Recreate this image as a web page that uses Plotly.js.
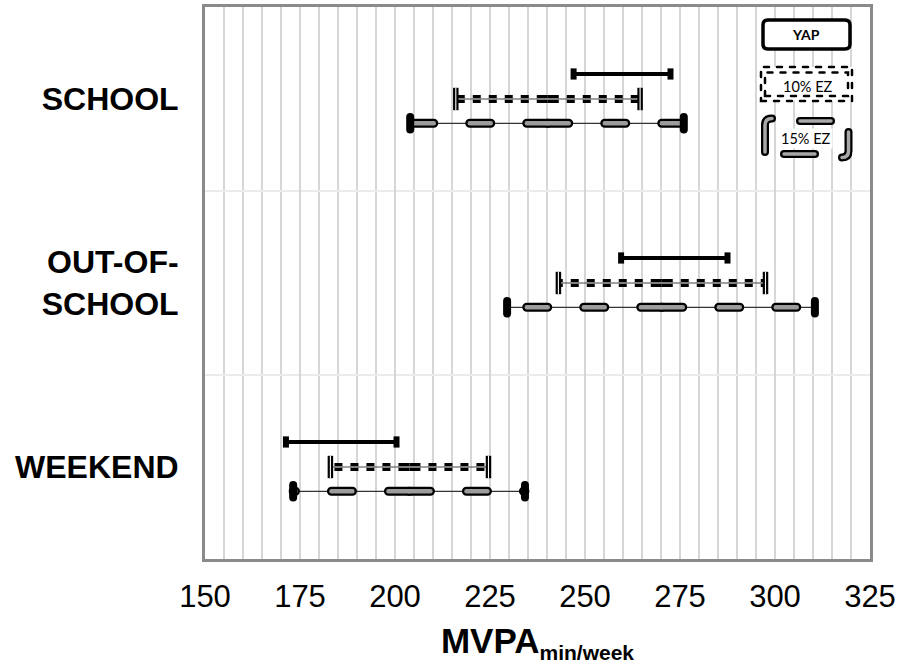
<!DOCTYPE html>
<html><head><meta charset="utf-8">
<script src="https://cdn.plot.ly/plotly-3.0.1.min.js"></script>
<style>
html,body{margin:0;padding:0;background:#fff;}
g[class*="traceez15"] path.js-line{stroke-linecap:round;}
g[class*="traceez15"] .points path{stroke-linecap:round;}
.shapelayer path{stroke-linecap:round;}
</style></head><body>
<div id="chart" style="width:903px;height:664px;"></div>
<script>
// ---- data (MVPA, min/week) ----
const categories = ['SCHOOL', 'OUT-OF-<br>SCHOOL', 'WEEKEND'];
const yapLow  = [247.0, 259.5, 171.3];
const yapHigh = [272.5, 287.5, 200.4];
const ezCenter = [240.2, 270.2, 203.8];
const ez10Low  = [216.0, 243.0, 183.0];
const ez10High = [264.5, 297.5, 224.6];
const ez15Low  = [204.0, 229.5, 173.2];
const ez15High = [276.0, 310.5, 234.2];
const xTicks = [150, 175, 200, 225, 250, 275, 300, 325];

// ---- style ----
const OFF_YAP = -0.136, OFF_15 = 0.132;
const DASH15 = '21px,36px';
const DASH10 = '11px,8px,8px,8px,8px,8px,8px,8px,8px,8px,8px,8px,8px,8px,8px,8px';
const traceList = [];
const thinL = [], blackL = [], upperL = [], markL = [];

categories.forEach((c, i) => {
  const yc = i + 0.5;
  const yY = yc + OFF_YAP, y10 = yc, y15 = yc + OFF_15;
  // YAP solid
  markL.push({x:[yapLow[i], yapHigh[i]], y:[yY, yY], mode:'lines+markers', type:'scatter',
    line:{color:'#000', width:4},
    marker:{symbol:'line-ns', size:8, color:'#000', line:{color:'#000', width:6}}});
  // 10% EZ
  thinL.push({x:[ez10Low[i], ez10High[i]], y:[y10, y10], mode:'lines', type:'scatter',
    line:{color:'#444', width:1}});
  [ez10Low[i], ez10High[i]].forEach(e => {
    blackL.push({x:[ezCenter[i], e], y:[y10, y10], mode:'lines', type:'scatter',
      line:{color:'#000', width:8, dash:DASH10}});
    upperL.push({x:[ezCenter[i], e], y:[y10, y10], mode:'lines', type:'scatter',
      line:{color:'#fff', width:1.2, dash:DASH10}});
  });
  markL.push({x:[ez10Low[i], ez10High[i]], y:[y10, y10], mode:'markers', type:'scatter',
    marker:{symbol:'line-ns', size:16, color:'#000', line:{color:'#000', width:5.5}}});
  markL.push({x:[ez10Low[i], ez10High[i]], y:[y10, y10], mode:'markers', type:'scatter',
    marker:{symbol:'line-ns', size:16, color:'#fff', line:{color:'#fff', width:1.1}}});
  // 15% EZ
  thinL.push({x:[ez15Low[i], ez15High[i]], y:[y15, y15], mode:'lines', type:'scatter',
    line:{color:'#333', width:1.2}});
  [ez15Low[i], ez15High[i]].forEach((e, k) => {
    blackL.push({uid:'ez15b'+i+'_'+k, x:[ezCenter[i], e], y:[y15, y15], mode:'lines', type:'scatter',
      line:{color:'#000', width:9, dash:DASH15}});
    upperL.push({uid:'ez15g'+i+'_'+k, x:[ezCenter[i], e], y:[y15, y15], mode:'lines', type:'scatter',
      line:{color:'#9c9c9c', width:4.5, dash:DASH15}});
  });
  markL.push({uid:'ez15m'+i, x:[ez15Low[i], ez15High[i]], y:[y15, y15], mode:'markers', type:'scatter',
    marker:{symbol:'line-ns', size:9, color:'#000', line:{color:'#000', width:8}}});
});
traceList.push(...thinL, ...blackL, ...upperL, ...markL);
traceList.forEach(t => { t.hoverinfo = 'skip'; t.showlegend = false; });

// ---- legend decoration (pixel -> paper) ----
const PL = 205, PR = 870, PT = 7, PB = 559;
const P = x => +((x - PL) / (PR - PL)).toFixed(5);
const Q = y => +((PB - y) / (PB - PT)).toFixed(5);
const seg = (d, w, col) => ({type:'path', xref:'paper', yref:'paper', path:d, line:{color:col, width:w}});
const legPaths = [
  `M${P(800)},${Q(121)} L${P(831)},${Q(121)}`,
  `M${P(784)},${Q(154)} L${P(815)},${Q(154)}`,
  `M${P(765)},${Q(152)} L${P(765)},${Q(125)} Q${P(765)},${Q(118.5)} ${P(772)},${Q(118.5)}`,
  `M${P(848.5)},${Q(132)} L${P(848.5)},${Q(151)} Q${P(848.5)},${Q(157.5)} ${P(842)},${Q(157.5)}`
];
const rr = 5, bx0 = 763, bx1 = 850, by0 = 20, by1 = 49;
const yapBox = `M${P(bx0+rr)},${Q(by0)} L${P(bx1-rr)},${Q(by0)} Q${P(bx1)},${Q(by0)} ${P(bx1)},${Q(by0+rr)} ` +
  `L${P(bx1)},${Q(by1-rr)} Q${P(bx1)},${Q(by1)} ${P(bx1-rr)},${Q(by1)} L${P(bx0+rr)},${Q(by1)} ` +
  `Q${P(bx0)},${Q(by1)} ${P(bx0)},${Q(by1-rr)} L${P(bx0)},${Q(by0+rr)} Q${P(bx0)},${Q(by0)} ${P(bx0+rr)},${Q(by0)} Z`;
const shapes = [
  ...legPaths.map(d => seg(d, 8, '#000')),
  ...legPaths.map(d => seg(d, 3.5, '#a8a8a8')),
  {type:'path', xref:'paper', yref:'paper', path:yapBox, fillcolor:'#fff', line:{color:'#000', width:3.5}},
  {type:'rect', xref:'paper', yref:'paper', x0:P(761), x1:P(852), y0:Q(101), y1:Q(67),
    fillcolor:'#fff', line:{color:'#000', width:2.5, dash:'5px,8px'}},
  {type:'rect', xref:'paper', yref:'paper', x0:P(765), x1:P(848), y0:Q(96), y1:Q(72.5),
    line:{color:'#000', width:2.5, dash:'5px,8px'}}
];
const legFont = {family:'Lato, "Open Sans", sans-serif', size:14.5, color:'#000'};
const ann = (t, x, y, extra) => Object.assign({text:t, x:P(x), y:Q(y), xref:'paper', yref:'paper',
  xanchor:'center', yanchor:'middle', showarrow:false, font:legFont}, extra || {});
const annotations = [
  ann('YAP', 806.5, 35, {font:Object.assign({}, legFont, {size:14, weight:'bold'})}),
  ann('10% EZ', 807.5, 86.5),
  ann('15% EZ', 806.5, 138, {bgcolor:'#fff'})
];

const GRID = '#d6d6d6';
const layout = {
  width:903, height:664,
  margin:{l:205, r:33, t:7, b:105},
  paper_bgcolor:'#fff', plot_bgcolor:'#fff',
  showlegend:false,
  xaxis:{
    range:[150, 325], tickmode:'array', tickvals:xTicks, ticktext:xTicks.map(String),
    showgrid:true, gridcolor:GRID, gridwidth:1.5, zeroline:false,
    minor:{tickmode:'linear', tick0:150, dtick:5, showgrid:true, gridcolor:GRID, gridwidth:1.5},
    ticks:'outside', ticklen:8, tickcolor:'rgba(0,0,0,0)',
    tickfont:{family:'"Liberation Sans", Arial, sans-serif', size:31, color:'#000'},
    showline:true, mirror:true, linecolor:'#8a8a8a', linewidth:3,
    title:{text:'<b>MVPA</b><sub><b><span style="font-size:21px">min/week</span></b></sub>', standoff:18,
      font:{family:'"Liberation Sans", Arial, sans-serif', size:35, color:'#000'}}
  },
  yaxis:{
    range:[3, 0], tickmode:'array', tickvals:[0.5, 1.5, 2.5], ticktext:categories,
    showgrid:false, zeroline:false,
    minor:{tickmode:'linear', tick0:0, dtick:1, showgrid:true, gridcolor:'#ebebeb', gridwidth:1.5},
    ticks:'outside', ticklen:17, tickcolor:'rgba(0,0,0,0)',
    tickfont:{family:'"Liberation Sans", Arial, sans-serif', size:32, color:'#000', weight:'bold'},
    showline:true, mirror:true, linecolor:'#8a8a8a', linewidth:3
  },
  shapes:shapes,
  annotations:annotations
};
Plotly.newPlot('chart', traceList, layout, {staticPlot:true, displayModeBar:false});
</script></body></html>
